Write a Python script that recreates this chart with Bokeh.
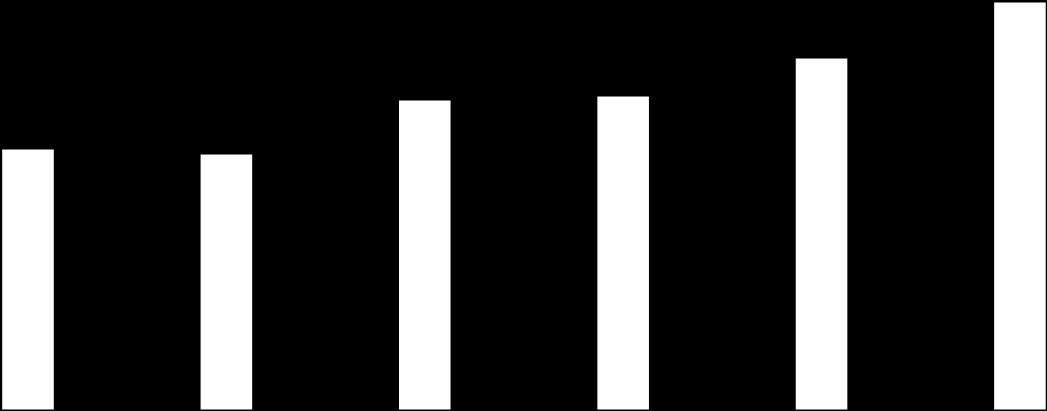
from bokeh.plotting import figure
from bokeh.models import Range1d, ColumnDataSource, GlobalInlineStyleSheet
from bokeh.embed import file_html
from bokeh.resources import INLINE

categories = ["A", "B", "C", "D", "E", "F"]
values = [260, 255, 309, 313, 351, 407]

positions = list(range(len(categories)))
src = ColumnDataSource(dict(x=positions, top=values, cat=categories))

p = figure(width=1047, height=411, output_backend="svg", toolbar_location=None,
           x_range=Range1d(-0.1386, 5.139), y_range=Range1d(-2, 409),
           min_border=0, background_fill_color="black", border_fill_color="black",
           outline_line_color=None)
p.axis.visible = False
p.grid.visible = False
p.vbar(x="x", top="top", bottom=0, width=0.26, source=src,
       fill_color="white", line_color=None)

p.stylesheets = [GlobalInlineStyleSheet(css="html,body{margin:0;padding:0;background:#000;overflow:hidden;}")]

open("out.html", "w").write(file_html(p, INLINE))
